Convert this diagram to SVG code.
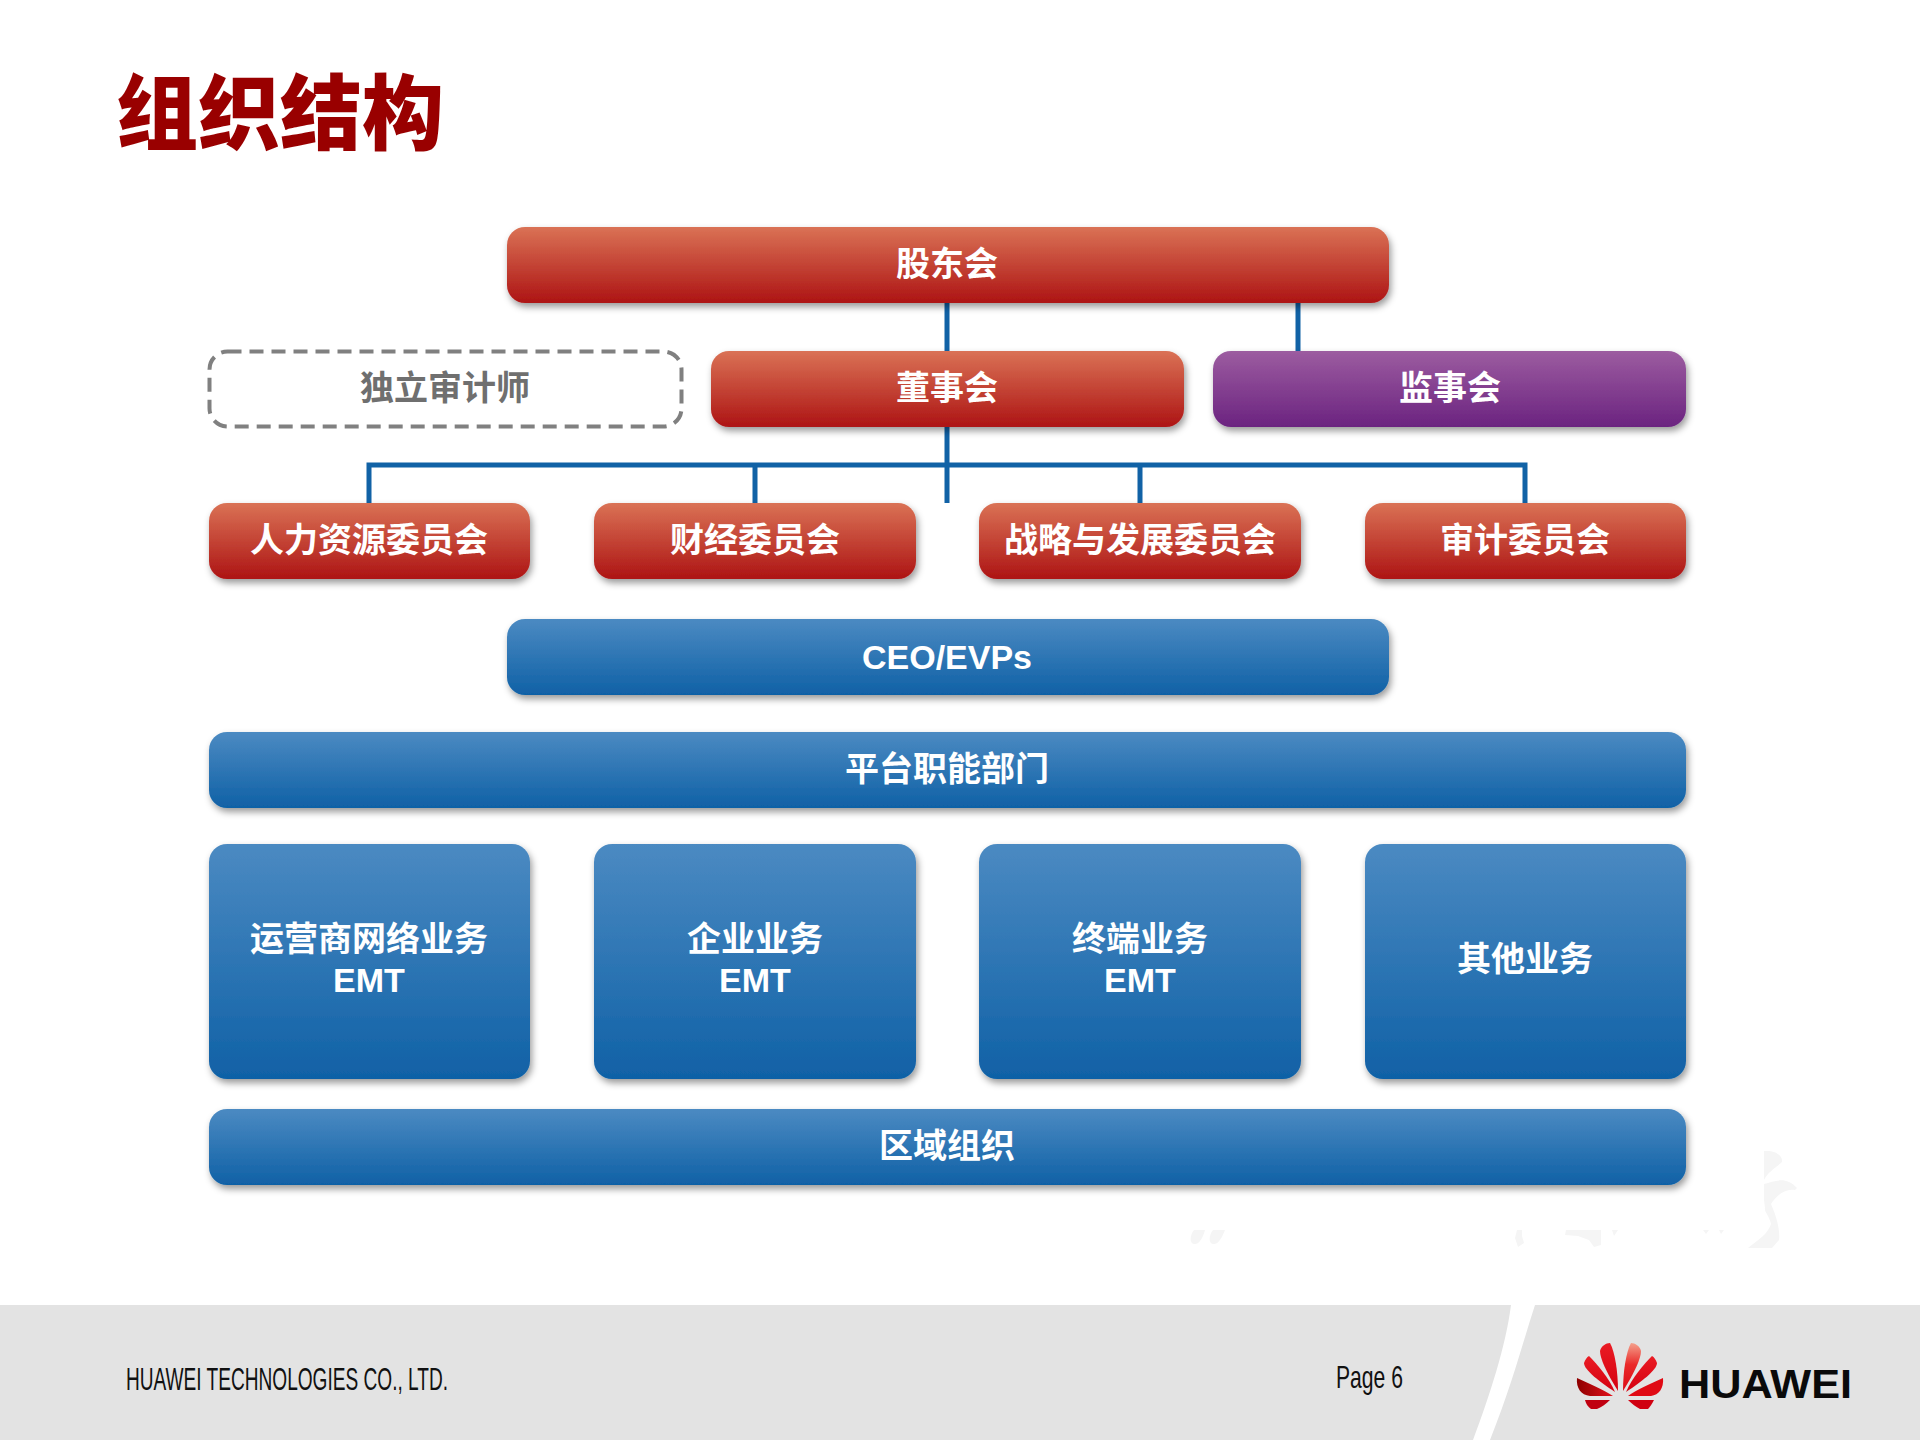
<svg xmlns="http://www.w3.org/2000/svg" width="1920" height="1440" viewBox="0 0 1920 1440">
<style>
.t{font-family:"Noto Sans CJK SC","Liberation Sans",sans-serif;font-weight:700;font-size:34px;fill:#fff;text-anchor:middle}
.e{font-family:"Liberation Sans","Noto Sans CJK SC",sans-serif;font-weight:700;font-size:34px;fill:#fff;text-anchor:middle}
.red{fill:url(#gr);filter:url(#sh)}
.blue{fill:url(#gb);filter:url(#sh)}
.pur{fill:url(#gp);filter:url(#sh)}
.c{fill:none;stroke:#1162a6;stroke-width:5}
.f{font-family:"Liberation Sans",sans-serif;font-size:32px;fill:#111}
.w{fill:#f5f5f5}
</style>
<defs>
<linearGradient id="gr" x1="0" y1="0" x2="0" y2="1"><stop offset="0" stop-color="#da7255"/><stop offset="1" stop-color="#ad1414"/></linearGradient>
<linearGradient id="gb" x1="0" y1="0" x2="0" y2="1"><stop offset="0" stop-color="#4b8ac2"/><stop offset="1" stop-color="#1061a6"/></linearGradient>
<linearGradient id="gp" x1="0" y1="0" x2="0" y2="1"><stop offset="0" stop-color="#9c5ca0"/><stop offset="1" stop-color="#6b2380"/></linearGradient>
<linearGradient id="pet" x1="0" y1="0" x2="0" y2="1"><stop offset="0" stop-color="#ea1c24"/><stop offset="1" stop-color="#d40010"/></linearGradient>
<linearGradient id="pet2" x1="0" y1="0" x2="0" y2="1"><stop offset="0" stop-color="#f4a18c"/><stop offset=".45" stop-color="#ea2a2a"/><stop offset="1" stop-color="#dc0a14"/></linearGradient>
<linearGradient id="pet3" x1="0" y1="0" x2="1" y2="0"><stop offset="0" stop-color="#8e0000"/><stop offset="1" stop-color="#e3101a"/></linearGradient>
<filter id="sh" x="-5%" y="-20%" width="110%" height="150%"><feDropShadow dx="2" dy="4" stdDeviation="3.5" flood-color="#000" flood-opacity=".4"/></filter>
</defs>
<rect width="1920" height="1440" fill="#fff"/>
<g id="watermark">
<path class="w" d="M1764 1151C1776 1150 1783 1156 1782 1162C1775 1168 1768 1172 1764 1180ZM1764 1184C1775 1181 1786 1176 1797 1188L1795 1190C1785 1188 1776 1196 1771 1204C1778 1220 1780 1232 1779 1240L1772 1248H1748C1758 1240 1768 1234 1771 1224C1769 1215 1764 1212 1765 1208L1764 1200Z"/>
<path class="w" d="M1194 1230H1205C1203 1238 1199 1245 1194 1244C1189 1243 1190 1235 1194 1230ZM1213 1230H1225C1222 1238 1218 1245 1213 1244C1208 1243 1209 1235 1213 1230ZM1517 1230H1522V1236L1524 1243L1518 1247L1515 1238ZM1566 1230H1601V1245L1594 1247L1589 1240L1578 1236L1565 1235ZM1612 1230H1618L1614 1236ZM1703 1230H1709L1706 1234ZM1719 1230H1724L1721 1234Z"/>
</g>
<g id="title"><text x="116" y="143" font-family="Noto Sans CJK SC,Liberation Sans,sans-serif" font-weight="900" font-size="82" fill="#990000">组织结构</text></g>
<g id="connectors">
<path class="c" d="M947 302V503M369 503V465H1525V503M755 465V503M1140 465V503M1298 302V351"/>
</g>
<g id="n1"><rect class="red" x="507" y="227" width="882" height="76" rx="18"/><text class="t" x="947" y="276">股东会</text></g>
<g id="n2"><rect x="209.500" y="351.500" width="472" height="75" rx="18" fill="#fff" stroke="#808080" stroke-width="4" stroke-dasharray="14 8"/><text class="t" x="445" y="400" style="fill:#6f6f6f">独立审计师</text></g>
<g id="n3"><rect class="red" x="711" y="351" width="473" height="76" rx="18"/><text class="t" x="947" y="400">董事会</text></g>
<g id="n4"><rect class="pur" x="1213" y="351" width="473" height="76" rx="18"/><text class="t" x="1450" y="400">监事会</text></g>
<g id="n5"><rect class="red" x="209" y="503" width="321" height="76" rx="18"/><text class="t" x="369" y="552">人力资源委员会</text></g>
<g id="n6"><rect class="red" x="594" y="503" width="322" height="76" rx="18"/><text class="t" x="755" y="552">财经委员会</text></g>
<g id="n7"><rect class="red" x="979" y="503" width="322" height="76" rx="18"/><text class="t" x="1140" y="552">战略与发展委员会</text></g>
<g id="n8"><rect class="red" x="1365" y="503" width="321" height="76" rx="18"/><text class="t" x="1525" y="552">审计委员会</text></g>
<g id="n9"><rect class="blue" x="507" y="619" width="882" height="76" rx="18"/><text class="e" x="947" y="669">CEO/EVPs</text></g>
<g id="n10"><rect class="blue" x="209" y="732" width="1477" height="76" rx="18"/><text class="t" x="947" y="781">平台职能部门</text></g>
<g id="n11"><rect class="blue" x="209" y="844" width="321" height="235" rx="18"/><text class="t" x="369" y="951">运营商网络业务</text><text class="e" x="369" y="992">EMT</text></g>
<g id="n12"><rect class="blue" x="594" y="844" width="322" height="235" rx="18"/><text class="t" x="755" y="951">企业业务</text><text class="e" x="755" y="992">EMT</text></g>
<g id="n13"><rect class="blue" x="979" y="844" width="322" height="235" rx="18"/><text class="t" x="1140" y="951">终端业务</text><text class="e" x="1140" y="992">EMT</text></g>
<g id="n14"><rect class="blue" x="1365" y="844" width="321" height="235" rx="18"/><text class="t" x="1525" y="971">其他业务</text></g>
<g id="n15"><rect class="blue" x="209" y="1109" width="1477" height="76" rx="18"/><text class="t" x="947" y="1158">区域组织</text></g>
<g id="footer">
<rect y="1305" width="1920" height="135" fill="#e3e3e3"/>
<path d="M1511 1305H1535C1522 1345 1512 1385 1490 1440H1473C1490 1395 1506 1345 1511 1305Z" fill="#fff"/>
<text class="f" x="126" y="1390" textLength="322" lengthAdjust="spacingAndGlyphs">HUAWEI TECHNOLOGIES CO., LTD.</text>
<text class="f" x="1336" y="1388" textLength="67" lengthAdjust="spacingAndGlyphs">Page 6</text>
</g>
<g id="logo">
<g id="petals">
<path fill="url(#pet)" d="M1618 1391C1606 1372 1600 1358 1600 1351C1601 1346 1606 1343 1610 1343C1615 1352 1618 1372 1618 1391Z"/>
<path fill="url(#pet)" d="M1615 1392C1600 1382 1584 1370 1584 1363C1585 1360 1587 1357 1589 1356C1597 1364 1609 1378 1615 1392Z"/>
<path fill="url(#pet3)" d="M1577 1378C1590 1384 1604 1390 1613 1396H1590C1581 1395 1576 1388 1577 1378Z"/>
<path fill="#c00010" d="M1585 1400H1610C1606 1404 1602 1407 1597 1409H1591C1588 1407 1586 1404 1585 1400Z"/>
<path fill="url(#pet2)" d="M1623 1391C1635 1372 1641 1358 1641 1351C1640 1346 1635 1343 1631 1343C1626 1352 1623 1372 1623 1391Z"/>
<path fill="url(#pet)" d="M1626 1392C1641 1382 1657 1370 1657 1363C1656 1360 1654 1357 1652 1356C1644 1364 1632 1378 1626 1392Z"/>
<path fill="#e00a14" d="M1663 1378C1650 1384 1636 1390 1628 1396H1651C1659 1395 1664 1388 1663 1378Z"/>
<path fill="#d00010" d="M1628 1400H1654C1652 1404 1650 1407 1648 1409H1640C1636 1407 1632 1404 1628 1400Z"/>
</g>
<text x="1679" y="1398" font-family="Liberation Sans,sans-serif" font-weight="700" font-size="40" fill="#0a0a0a" textLength="173" lengthAdjust="spacingAndGlyphs">HUAWEI</text>
</g>
</svg>
